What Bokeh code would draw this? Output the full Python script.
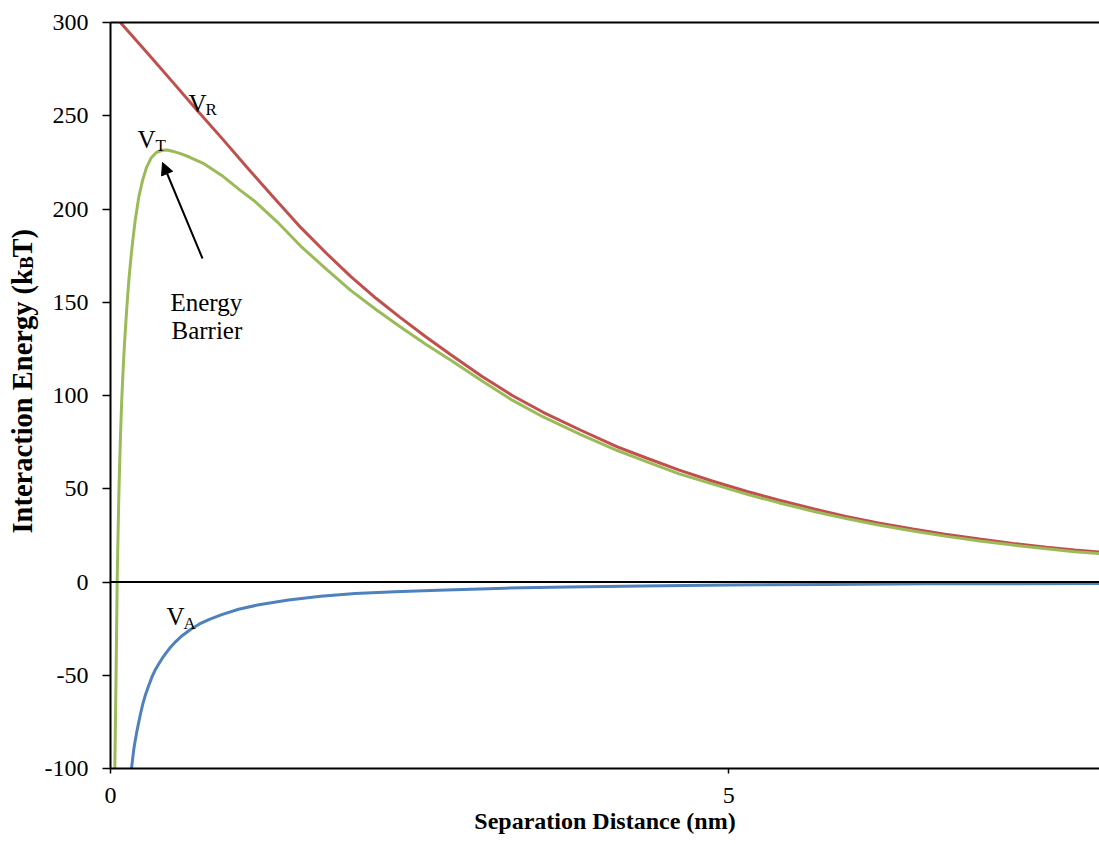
from bokeh.plotting import figure
from bokeh.layouts import row
from bokeh.models import (Range1d, FixedTicker, Span, Label, Arrow, NormalHead,
                          LinearAxis)
from bokeh.embed import file_html
from bokeh.resources import INLINE

# ---- DLVO interaction energy curves (kBT vs separation in nm) ----
vr_x = [0.08, 0.3, 0.5, 0.7, 0.9, 1.1, 1.3, 1.54, 1.75, 1.94, 2.15, 2.34,
        2.55, 2.75, 3.0, 3.25, 3.5, 3.8, 4.1, 4.335, 4.6, 4.873, 5.15, 5.41,
        5.7, 5.95, 6.2, 6.49, 6.75, 7.03, 7.3, 7.57, 7.8, 8.0]
vr_y = [300, 283.5, 268.3, 253, 238, 222.7, 207.6, 190, 176, 164, 152, 142,
        131.5, 122, 110.5, 100, 91, 81.5, 72.5, 66.5, 60, 54, 48.5, 43.8,
        39, 35.2, 31.8, 28.4, 25.6, 23, 20.7, 18.6, 17.1, 16.0]

vt_x = [0.035, 0.045, 0.054, 0.06, 0.067, 0.074, 0.081, 0.09, 0.1, 0.11, 0.12,
        0.135, 0.15, 0.165, 0.18, 0.2, 0.229, 0.26, 0.29, 0.33, 0.37, 0.418,
        0.46, 0.5, 0.56, 0.633, 0.75, 0.9, 1.05, 1.17, 1.35, 1.54, 1.75, 1.94,
        2.15, 2.34, 2.55, 2.75, 3.0, 3.25, 3.5, 3.8, 4.1, 4.335, 4.6, 4.873,
        5.15, 5.41, 5.7, 5.95, 6.2, 6.49, 6.75, 7.03, 7.3, 7.57, 7.8, 8.0]
vt_y = [-100, -50, 0, 22, 45, 63, 79, 96, 111, 124, 135,
        150, 163, 173.5, 183, 194, 206.5, 215.5, 222, 227.5, 230.3, 231.5,
        231.6, 231, 229.8, 228, 224.5, 218, 210, 204, 193, 180, 167.5, 156.5,
        146, 137, 127.5, 119, 108, 97.5, 88.5, 79.2, 70.5, 64.5, 58, 52.5,
        47, 42.4, 37.7, 34, 30.7, 27.3, 24.6, 22, 19.8, 17.8, 16.2, 15.2]

va_x = [0.17, 0.18, 0.189, 0.2, 0.215, 0.229, 0.245, 0.262, 0.285, 0.31,
        0.335, 0.359, 0.39, 0.418, 0.45, 0.485, 0.53, 0.579, 0.65, 0.72, 0.8,
        0.9, 1.036, 1.2, 1.44, 1.7, 1.98, 2.3, 2.65, 3.19, 3.7, 4.3, 5.0, 5.8,
        6.6, 7.3, 8.0]
va_y = [-100, -94.3, -89.4, -85, -79.5, -75, -70, -65.2, -60, -55.4,
        -51, -47.5, -44, -41, -38, -35, -31.8, -28.8, -25.3, -22.5, -20,
        -17.5, -14.6, -12.2, -9.6, -7.6, -6.2, -5.2, -4.4, -3.3, -2.7, -2.1,
        -1.6, -1.3, -1.0, -0.9, -0.8]

y_ticks = [-100, -50, 0, 50, 100, 150, 200, 250, 300]
y_tick_labels = ["-100", "-50", "0", "50", "100", "150", "200", "250", "300"]
x_ticks = [0, 5]
x_tick_labels = ["0", "5"]

RED = "#C0504D"
GREEN = "#9BBB59"
BLUE = "#4F81BD"
SERIF = "Liberation Serif"

W, H = 1099, 844
TITLE_W = 39   # strip on the left that carries the vertical axis title

p = figure(width=W - TITLE_W, height=H, output_backend="svg",
           toolbar_location=None,
           x_range=Range1d(0, 8), y_range=Range1d(-100, 300),
           min_border_left=110 - TITLE_W, min_border_right=0, min_border_top=22,
           min_border_bottom=76, x_axis_location=None, y_axis_location=None)
p.outline_line_color = None
p.xgrid.visible = False
p.ygrid.visible = False
p.background_fill_color = "white"
p.border_fill_color = "white"

# axes
yax = LinearAxis(ticker=FixedTicker(ticks=y_ticks))
yax.major_label_overrides = {t: s for t, s in zip(y_ticks, y_tick_labels)}
xax = LinearAxis(ticker=FixedTicker(ticks=x_ticks))
xax.major_label_overrides = {t: s for t, s in zip(x_ticks, x_tick_labels)}
for ax in (yax, xax):
    ax.axis_line_color = "black"
    ax.axis_line_width = 2
    ax.major_tick_line_color = "black"
    ax.major_tick_line_width = 1.5
    ax.major_tick_in = 0
    ax.minor_tick_line_color = None
    ax.major_label_text_font = SERIF
    ax.major_label_text_font_size = "24px"
    ax.major_label_text_color = "black"
yax.major_tick_out = 8
yax.major_label_standoff = 14
xax.major_tick_out = 5
xax.major_label_standoff = 14
xax.axis_label = "Separation Distance (nm)"
xax.axis_label_text_font = SERIF
xax.axis_label_text_font_size = "24px"
xax.axis_label_text_font_style = "bold"
xax.axis_label_text_color = "black"
xax.axis_label_standoff = 2
p.add_layout(yax, "left")
p.add_layout(xax, "below")

# top border of the plot area
top = LinearAxis(ticker=FixedTicker(ticks=[]), axis_line_color="black",
                 axis_line_width=2, major_tick_line_color=None,
                 minor_tick_line_color=None, major_label_text_font_size="0px",
                 major_label_standoff=0)
p.add_layout(top, "above")

# zero line
p.add_layout(Span(location=0, dimension="width", line_color="black", line_width=2))

# curves
p.line(vr_x, vr_y, line_color=RED, line_width=3)
p.line(vt_x, vt_y, line_color=GREEN, line_width=3)
p.line(va_x, va_y, line_color=BLUE, line_width=3)


def px_x(px):
    return (px - 110) / 123.625


def px_y(py):
    return 300 - (py - 22) * 400 / 746


def text(fig, x, y, s, size, bold=False, angle=0, align="left"):
    fig.add_layout(Label(x=x, y=y, text=s, text_font=SERIF, text_font_size=size,
                         text_font_style="bold" if bold else "normal",
                         text_color="black", angle=angle, text_align=align,
                         text_baseline="alphabetic"))


# curve labels with subscripts
text(p, px_x(188), px_y(103), "V", "25px")
text(p, px_x(205), px_y(109), "R", "17px")
text(p, px_x(137), px_y(139), "V", "25px")
text(p, px_x(155), px_y(145), "T", "17px")
text(p, px_x(166), px_y(616), "V", "25px")
text(p, px_x(183), px_y(623), "A", "17px")

# energy barrier annotation
text(p, px_x(170), px_y(302), "Energy", "25px")
text(p, px_x(171), px_y(330), "Barrier", "25px")
p.add_layout(Arrow(end=NormalHead(size=12, fill_color="black", line_color="black"),
                   x_start=px_x(202), y_start=px_y(258),
                   x_end=px_x(162), y_end=px_y(162),
                   line_color="black", line_width=2))

# vertical axis title, in pieces so that "B" can sit as a subscript;
# the strip's data units are pixels, y measured up from the bottom
t = figure(width=TITLE_W, height=H, output_backend="svg", toolbar_location=None,
           x_range=Range1d(0, TITLE_W), y_range=Range1d(0, H),
           min_border=0, x_axis_location=None, y_axis_location=None)
t.outline_line_color = None
t.xgrid.visible = False
t.ygrid.visible = False
t.border_fill_color = "white"
t.background_fill_color = "white"
ang = 1.5707963
join = 279     # where "(k" ends and the subscript begins, from the top
base = 22      # baseline of the rotated title text
text(t, base, H - join, "Interaction Energy (k", "28.5px", bold=True, angle=ang,
     align="right")
text(t, base + 4, H - join, "B", "19px", bold=True, angle=ang)
text(t, base, H - (join - 13), " T)", "28.5px", bold=True, angle=ang)

layout = row(t, p, spacing=0)
open("out.html", "w").write(file_html(layout, INLINE))
